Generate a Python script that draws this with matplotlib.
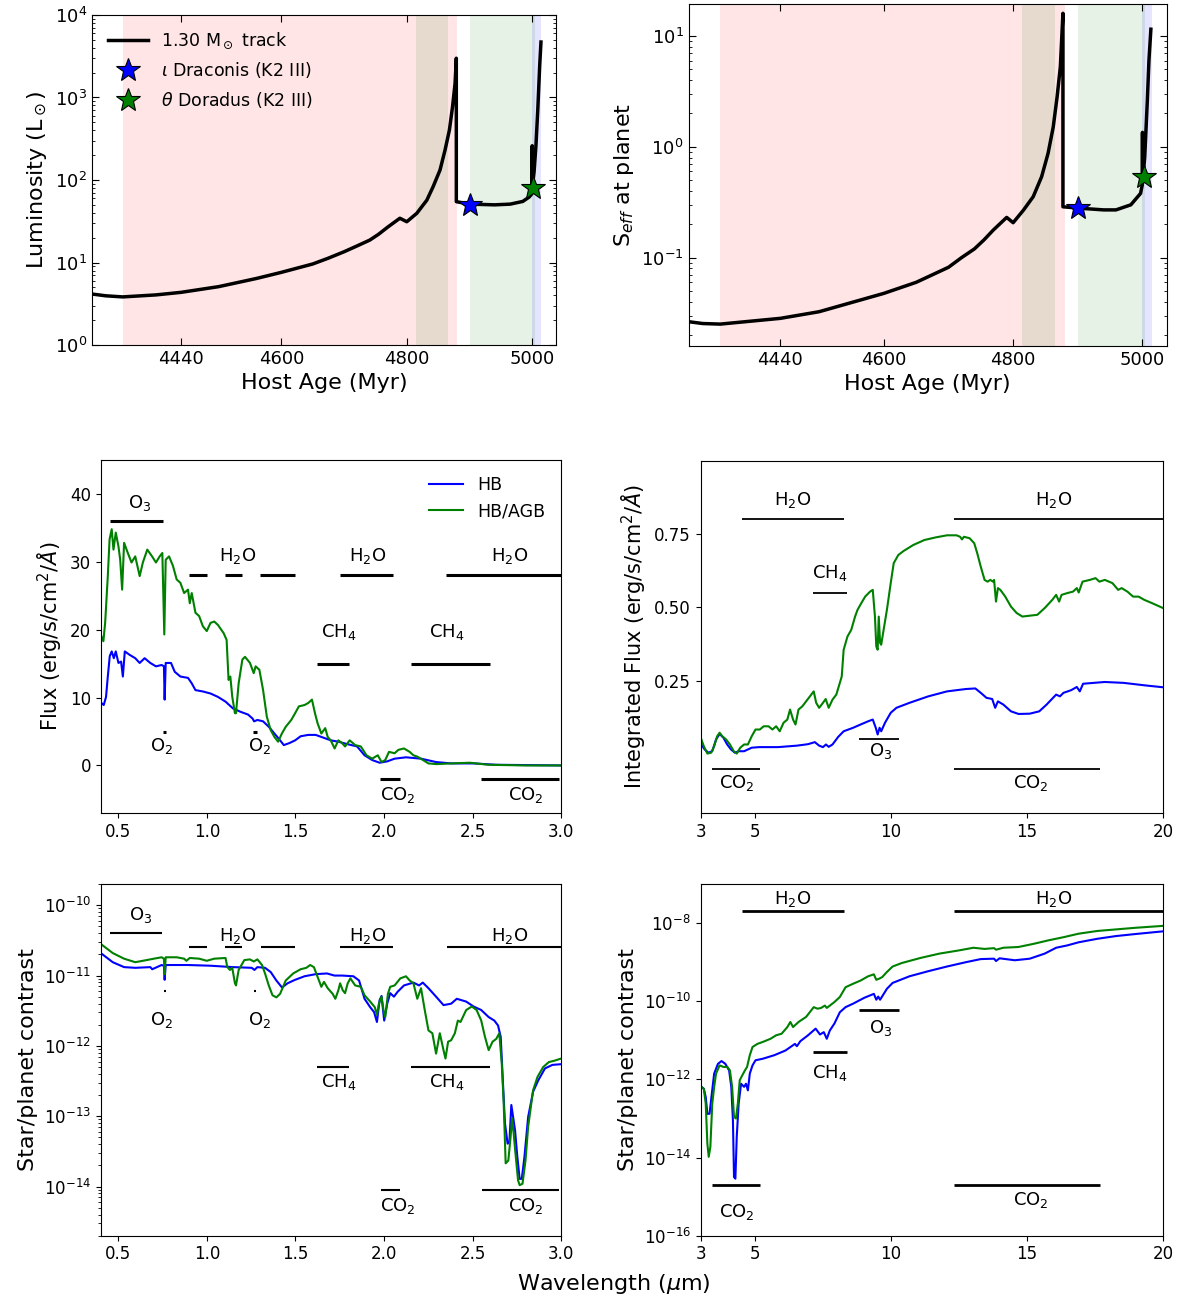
import numpy as np
import matplotlib.pyplot as plt

plt.rcParams['font.family'] = ['DejaVu Sans']
plt.rcParams['mathtext.fontset'] = 'dejavusans'

# ---- 1.30 Msun evolutionary track (host age in Myr) ----
age_L = [4298, 4320, 4347, 4400, 4440, 4500, 4560, 4600, 4650, 4675, 4700, 4720, 4741,
         4755, 4770, 4789, 4800, 4816, 4832, 4842, 4853, 4861, 4868, 4873, 4877, 4879,
         4879.01, 4901, 4940, 4965, 4985, 4995, 4999.5, 5000, 5000.4, 5003, 5006, 5009,
         5012, 5014]
lum = [4.15, 3.95, 3.83, 4.05, 4.35, 5.1, 6.4, 7.6, 9.6, 11.3, 13.5, 15.8, 18.7,
       22, 27, 34.4, 31.2, 39.5, 57, 83, 132, 230, 404, 775, 1480, 2990,
       54.6, 51, 50, 51, 55, 62, 68, 260, 85, 125, 262, 730,
       2450, 4700]

age_S = [4298, 4320, 4347, 4440, 4500, 4600, 4650, 4700, 4720, 4740, 4755, 4769, 4790,
         4800, 4816, 4831, 4844, 4854, 4862, 4868, 4873, 4875, 4877, 4877.01, 4901, 4940,
         4959, 4982, 4997, 4999.6, 5000, 5000.4, 5003.5, 5007.5, 5010, 5013]
seff = [0.0265, 0.0255, 0.0252, 0.0284, 0.0326, 0.0477, 0.060, 0.082, 0.10, 0.12, 0.145, 0.177, 0.231,
        0.207, 0.269, 0.355, 0.537, 0.873, 1.51, 2.83, 5.28, 9.2, 16.0, 0.288, 0.28, 0.27,
        0.27, 0.3, 0.38, 0.45, 1.35, 0.5, 0.81, 2.6, 6.0, 11.5]

star_names = [r'$\iota$ Draconis (K2 III)', r'$\theta$ Doradus (K2 III)']
star_colors = ['blue', 'green']
star_age = [4901, 5002]
star_lum = [50, 79]
star_seff = [0.28, 0.54]

# evolutionary phases: (start, end, colour)
phases = [(4347, 4880, 'red'), (4814, 4865, 'green'),
          (4901, 5004, 'green'), (5000, 5014, 'blue')]

# ---- reflected/emitted spectra, 0.4 - 3 micron ----
wl_vis_hb = [0.404, 0.417, 0.43, 0.44, 0.451, 0.462, 0.474, 0.485, 0.5, 0.515, 0.525,
             0.536, 0.563, 0.595, 0.62, 0.648, 0.68, 0.712, 0.744, 0.757, 0.761, 0.767,
             0.797, 0.818, 0.85, 0.893, 0.914, 0.935, 0.977, 1.02, 1.062, 1.105, 1.147,
             1.19, 1.232, 1.258, 1.266, 1.285, 1.317, 1.349, 1.381, 1.413, 1.434, 1.466,
             1.498, 1.529, 1.572, 1.614, 1.657, 1.699, 1.742, 1.784, 1.848, 1.89, 1.933,
             1.975, 2.018, 2.06, 2.124, 2.209, 2.294, 2.379, 2.506, 2.633, 3.0]
flux_vis_hb = [9.2, 8.9, 10.1, 13.1, 16.1, 16.8, 15.8, 16.8, 15.1, 15.3, 13.1,
               16.8, 16.3, 15.8, 15.1, 15.8, 15.1, 14.6, 14.8, 14.6, 9.7, 15.1,
               15.1, 13.8, 13.1, 12.9, 12.1, 11.1, 10.9, 10.6, 10.1, 9.4, 8.4,
               7.9, 7.5, 6.9, 6.5, 6.7, 6.5, 5.7, 4.7, 3.7, 3.0, 3.3,
               3.7, 4.3, 4.5, 4.5, 4.1, 3.7, 3.5, 3.2, 2.8, 1.5, 0.8,
               0.4, 0.6, 1.0, 1.2, 1.0, 0.5, 0.3, 0.3, 0.1, 0.0]

wl_vis_agb = [0.404, 0.415, 0.425, 0.44, 0.45, 0.462, 0.472, 0.485, 0.5, 0.51, 0.521,
              0.532, 0.553, 0.574, 0.595, 0.62, 0.638, 0.663, 0.69, 0.712, 0.733, 0.748,
              0.759, 0.767, 0.786, 0.808, 0.829, 0.85, 0.871, 0.893, 0.903, 0.914, 0.935,
              0.956, 0.977, 0.999, 1.02, 1.041, 1.062, 1.094, 1.111, 1.122, 1.132, 1.143,
              1.158, 1.164, 1.179, 1.2, 1.215, 1.243, 1.264, 1.275, 1.296, 1.317, 1.338,
              1.36, 1.381, 1.402, 1.423, 1.445, 1.476, 1.498, 1.519, 1.551, 1.572, 1.593,
              1.61, 1.625, 1.646, 1.668, 1.682, 1.699, 1.721, 1.742, 1.763, 1.78, 1.806,
              1.837, 1.869, 1.901, 1.933, 1.965, 1.986, 2.007, 2.028, 2.06, 2.081, 2.113,
              2.145, 2.166, 2.188, 2.22, 2.251, 2.294, 2.379, 2.485, 2.59, 2.8, 3.0]
flux_vis_agb = [19.0, 18.3, 21.0, 27.9, 33.3, 34.8, 31.8, 34.3, 32.3, 30.3, 25.9,
                32.8, 31.3, 29.9, 30.8, 27.9, 29.9, 31.8, 30.8, 29.9, 30.8, 31.3,
                19.3, 30.3, 30.8, 29.4, 27.4, 26.9, 25.4, 25.9, 23.9, 25.4, 22.5,
                22.0, 20.5, 19.8, 21.0, 21.2, 20.7, 19.5, 18.5, 12.6, 13.1, 10.1,
                7.7, 7.7, 12.1, 15.6, 16.0, 15.1, 13.6, 14.6, 14.1, 11.1, 7.2,
                5.2, 4.2, 3.5, 4.7, 5.7, 6.7, 7.7, 8.7, 8.9, 9.2, 9.7,
                7.7, 6.2, 4.7, 5.5, 4.2, 3.7, 2.5, 3.7, 3.3, 2.8, 3.7,
                3.0, 2.8, 1.5, 1.0, 1.5, 0.5, 0.8, 2.0, 1.8, 2.3, 2.5,
                2.0, 1.5, 1.3, 0.8, 0.3, 0.2, 0.3, 0.4, 0.1, 0.0, 0.0]

# ---- integrated flux, 3 - 20 micron ----
wl_ir_hb = [3.03, 3.15, 3.29, 3.43, 3.57, 3.70, 3.84, 3.98, 4.12, 4.26, 4.40, 4.60,
            4.74, 4.88, 5.15, 5.85, 6.54, 6.95, 7.20, 7.36, 7.50, 7.61, 7.71, 7.85,
            8.06, 8.26, 8.61, 8.88, 9.16, 9.33, 9.44, 9.51, 9.58, 9.64, 9.78, 9.99,
            10.20, 10.68, 11.37, 12.06, 12.75, 13.10, 13.30, 13.51, 13.72, 13.83, 13.93,
            14.13, 14.41, 14.69, 15.10, 15.45, 15.72, 16.07, 16.21, 16.34, 16.62, 16.83,
            16.94, 17.06, 17.45, 17.86, 18.55, 19.38, 20.0]
flux_ir_hb = [0.033, 0.016, 0.005, 0.010, 0.050, 0.069, 0.056, 0.033, 0.016, 0.005, 0.010, 0.010,
              0.016, 0.022, 0.024, 0.024, 0.029, 0.034, 0.041, 0.029, 0.024, 0.033, 0.025, 0.033,
              0.059, 0.078, 0.090, 0.101, 0.112, 0.118, 0.090, 0.067, 0.090, 0.078, 0.107, 0.141,
              0.158, 0.175, 0.197, 0.214, 0.222, 0.224, 0.209, 0.192, 0.188, 0.158, 0.180,
              0.169, 0.146, 0.137, 0.138, 0.146, 0.169, 0.203, 0.197, 0.209, 0.218, 0.229,
              0.214, 0.240, 0.243, 0.246, 0.243, 0.234, 0.228]

wl_ir_agb = [3.03, 3.12, 3.25, 3.39, 3.50, 3.61, 3.70, 3.80, 3.94, 4.08, 4.22, 4.33,
             4.46, 4.60, 4.74, 4.88, 5.02, 5.18, 5.32, 5.50, 5.64, 5.78, 5.91, 6.05,
             6.19, 6.29, 6.40, 6.49, 6.60, 6.74, 6.88, 7.02, 7.16, 7.25, 7.36, 7.50,
             7.60, 7.71, 7.85, 7.99, 8.12, 8.19, 8.26, 8.40, 8.54, 8.68, 8.77, 8.91,
             9.05, 9.23, 9.33, 9.41, 9.46, 9.51, 9.55, 9.60, 9.64, 9.74, 9.85, 9.99,
             10.10, 10.27, 10.47, 10.82, 11.23, 11.65, 12.06, 12.41, 12.54, 12.61, 12.68,
             12.89, 13.06, 13.17, 13.30, 13.44, 13.55, 13.65, 13.75, 13.79, 13.86, 13.93,
             14.02, 14.20, 14.41, 14.62, 14.83, 15.10, 15.38, 15.65, 15.93, 16.07, 16.18,
             16.27, 16.48, 16.69, 16.83, 16.90, 17.04, 17.31, 17.52, 17.66, 17.86, 18.14,
             18.35, 18.48, 18.69, 18.90, 19.10, 19.31, 19.59, 20.0]
flux_ir_agb = [0.050, 0.027, 0.002, 0.005, 0.027, 0.061, 0.073, 0.061, 0.050, 0.033, 0.010, 0.002,
               0.022, 0.033, 0.033, 0.061, 0.084, 0.084, 0.095, 0.095, 0.084, 0.095, 0.078, 0.107,
               0.118, 0.152, 0.118, 0.101, 0.152, 0.163, 0.180, 0.197, 0.214, 0.175, 0.158, 0.175,
               0.188, 0.158, 0.186, 0.203, 0.243, 0.265, 0.356, 0.401, 0.424, 0.469, 0.492, 0.515,
               0.537, 0.554, 0.560, 0.469, 0.367, 0.356, 0.469, 0.379, 0.373, 0.430, 0.492, 0.583,
               0.651, 0.679, 0.693, 0.713, 0.730, 0.739, 0.746, 0.746, 0.741, 0.732, 0.741,
               0.736, 0.719, 0.685, 0.639, 0.594, 0.588, 0.594, 0.588, 0.594, 0.520, 0.566,
               0.560, 0.537, 0.503, 0.481, 0.469, 0.472, 0.475, 0.498, 0.526, 0.543, 0.520,
               0.543, 0.549, 0.554, 0.566, 0.551, 0.588, 0.594, 0.600, 0.588, 0.594, 0.583,
               0.560, 0.566, 0.554, 0.537, 0.537, 0.526, 0.515, 0.498]

# ---- star/planet contrast (log10), 0.4 - 3 micron ----
wl_cvis_hb = [0.40, 0.468, 0.532, 0.595, 0.68, 0.691, 0.744, 0.757, 0.761, 0.767, 0.893,
              1.02, 1.147, 1.253, 1.268, 1.285, 1.328, 1.36, 1.392, 1.424, 1.455, 1.498,
              1.551, 1.614, 1.678, 1.72, 1.763, 1.827, 1.859, 1.89, 1.922, 1.944, 1.96,
              1.975, 1.986, 2.001, 2.018, 2.035, 2.056, 2.077, 2.113, 2.166, 2.198, 2.219,
              2.251, 2.294, 2.336, 2.379, 2.411, 2.464, 2.506, 2.549, 2.591, 2.623, 2.644,
              2.659, 2.672, 2.683, 2.698, 2.708, 2.719, 2.729, 2.74, 2.753, 2.766, 2.778,
              2.793, 2.814, 2.842, 2.871, 2.909, 2.951, 3.0]
lcon_vis_hb = [-10.68, -10.81, -10.88, -10.89, -10.88, -10.91, -10.85, -10.86, -11.06, -10.85, -10.85,
               -10.86, -10.88, -10.89, -10.92, -10.88, -10.89, -10.95, -11.07, -11.17, -11.11, -11.06,
               -11.01, -10.98, -10.97, -11.00, -11.00, -11.01, -11.07, -11.33, -11.45, -11.52, -11.66,
               -11.35, -11.29, -11.64, -11.40, -11.25, -11.30, -11.23, -11.14, -11.10, -11.14, -11.10,
               -11.18, -11.30, -11.42, -11.40, -11.33, -11.37, -11.44, -11.49, -11.59, -11.64, -11.71,
               -11.87, -12.54, -13.10, -13.39, -13.37, -12.84, -13.01, -13.20, -13.58, -13.89, -13.89,
               -13.58, -13.01, -12.65, -12.49, -12.32, -12.27, -12.26]

wl_cvis_agb = [0.40, 0.468, 0.532, 0.595, 0.659, 0.70, 0.744, 0.757, 0.761, 0.767, 0.829,
               0.871, 0.884, 0.903, 0.956, 0.999, 1.041, 1.105, 1.115, 1.13, 1.143, 1.158,
               1.164, 1.179, 1.211, 1.243, 1.264, 1.285, 1.311, 1.328, 1.349, 1.37, 1.392,
               1.413, 1.445, 1.487, 1.529, 1.561, 1.583, 1.604, 1.625, 1.646, 1.661, 1.682,
               1.71, 1.725, 1.742, 1.752, 1.767, 1.78, 1.795, 1.81, 1.837, 1.869, 1.89,
               1.922, 1.948, 1.96, 1.971, 1.986, 1.997, 2.007, 2.022, 2.035, 2.06, 2.092,
               2.124, 2.145, 2.166, 2.188, 2.209, 2.23, 2.251, 2.273, 2.294, 2.315, 2.336,
               2.347, 2.362, 2.379, 2.40, 2.417, 2.432, 2.464, 2.496, 2.523, 2.549, 2.57,
               2.591, 2.613, 2.634, 2.651, 2.665, 2.676, 2.687, 2.702, 2.715, 2.723, 2.732,
               2.744, 2.757, 2.766, 2.782, 2.799, 2.814, 2.842, 2.867, 2.899, 2.931, 2.963, 3.0]
lcon_vis_agb = [-10.55, -10.68, -10.76, -10.81, -10.78, -10.76, -10.74, -10.76, -10.98, -10.74, -10.74,
                -10.76, -10.79, -10.75, -10.76, -10.79, -10.76, -10.75, -10.88, -10.92, -10.89, -11.11,
                -11.14, -10.92, -10.78, -10.77, -10.80, -10.77, -10.85, -10.97, -11.14, -11.28, -11.31,
                -11.26, -11.07, -10.97, -10.91, -10.89, -10.85, -10.88, -11.02, -11.16, -11.09, -11.18,
                -11.26, -11.33, -11.21, -11.11, -11.21, -11.25, -11.11, -11.04, -11.14, -11.16, -11.28,
                -11.37, -11.45, -11.56, -11.40, -11.30, -11.49, -11.59, -11.26, -11.16, -11.14, -11.04,
                -11.01, -11.07, -11.11, -11.33, -11.18, -11.49, -11.78, -11.82, -12.11, -11.82, -12.06,
                -12.18, -11.94, -11.92, -11.82, -11.64, -11.66, -11.49, -11.44, -11.49, -11.64, -11.87,
                -12.06, -11.94, -11.90, -11.82, -12.25, -12.82, -13.67, -13.63, -13.29, -13.03, -13.24,
                -13.57, -13.91, -13.98, -13.96, -13.63, -13.15, -12.63, -12.44, -12.30, -12.23, -12.21, -12.18]

# ---- star/planet contrast (log10), 3 - 20 micron ----
wl_cir_hb = [3.03, 3.12, 3.19, 3.25, 3.33, 3.40, 3.50, 3.64, 3.77, 3.91, 4.05, 4.13,
             4.19, 4.23, 4.28, 4.33, 4.40, 4.49, 4.60, 4.67, 4.74, 4.81, 4.91, 5.02,
             5.29, 5.71, 6.12, 6.47, 6.54, 6.67, 6.95, 7.23, 7.39, 7.53, 7.64, 7.75,
             7.92, 8.12, 8.33, 8.61, 9.02, 9.37, 9.46, 9.53, 9.60, 9.85, 10.06, 10.68,
             11.37, 12.06, 12.75, 13.30, 13.79, 13.86, 13.99, 14.55, 15.10, 15.65, 16.07,
             16.48, 16.90, 17.59, 18.28, 18.97, 20.0]
lcon_ir_hb = [-12.19, -12.24, -12.45, -12.88, -12.88, -12.45, -11.85, -11.60, -11.53, -11.60, -11.77, -12.19,
              -13.05, -14.50, -14.54, -13.47, -12.62, -12.11, -12.19, -12.11, -12.28, -11.85, -11.64, -11.51,
              -11.47, -11.38, -11.26, -11.09, -11.15, -11.02, -10.87, -10.70, -10.85, -10.79, -10.96, -10.75,
              -10.57, -10.28, -10.15, -10.06, -9.91, -9.81, -9.96, -9.88, -9.96, -9.68, -9.53, -9.36,
              -9.23, -9.11, -9.00, -8.92, -8.91, -8.97, -8.90, -8.95, -8.91, -8.78, -8.63,
              -8.57, -8.49, -8.40, -8.33, -8.28, -8.21]

wl_cir_agb = [3.03, 3.12, 3.19, 3.25, 3.30, 3.36, 3.43, 3.50, 3.57, 3.70, 3.84, 3.98,
              4.08, 4.16, 4.23, 4.30, 4.37, 4.44, 4.53, 4.63, 4.71, 4.81, 4.91, 5.09,
              5.29, 5.57, 5.78, 5.98, 6.19, 6.30, 6.40, 6.60, 6.88, 7.16, 7.30, 7.43,
              7.57, 7.64, 7.92, 8.12, 8.33, 8.61, 8.88, 9.16, 9.37, 9.46, 9.57, 9.68,
              9.85, 10.06, 10.40, 11.09, 11.78, 12.48, 13.03, 13.44, 13.79, 13.86, 14.13,
              14.69, 15.24, 15.79, 16.34, 16.90, 17.59, 18.28, 18.97, 20.0]
lcon_ir_agb = [-12.19, -12.24, -12.62, -13.64, -13.98, -13.73, -12.62, -12.19, -11.85, -11.64, -11.68, -11.68,
               -11.77, -12.19, -12.96, -13.00, -12.62, -12.02, -11.90, -11.77, -11.68, -11.38, -11.17, -11.09,
               -11.04, -10.96, -10.87, -10.83, -10.66, -10.53, -10.66, -10.53, -10.40, -10.15, -10.19, -10.17,
               -10.11, -10.17, -10.02, -9.89, -9.64, -9.55, -9.47, -9.36, -9.31, -9.45, -9.42, -9.38,
               -9.25, -9.11, -9.02, -8.89, -8.78, -8.70, -8.63, -8.66, -8.64, -8.68, -8.63,
               -8.61, -8.53, -8.44, -8.36, -8.27, -8.20, -8.16, -8.12, -8.07]

# ---- molecular band markers: (x0, x1, y) and (label, x, y) ----
bands_flux_vis = [(0.45, 0.75, 36), (0.90, 1.00, 28), (1.10, 1.20, 28), (1.30, 1.50, 28),
                  (1.75, 2.05, 28), (2.35, 3.0, 28), (1.62, 1.80, 15), (2.15, 2.60, 15),
                  (0.75, 0.77, 5), (1.26, 1.28, 5), (1.98, 2.09, -2), (2.55, 2.99, -2)]
names_flux_vis = [('O$_3$', 0.62, 38.7), ('H$_2$O', 1.175, 30.9), ('H$_2$O', 1.905, 30.9),
                  ('H$_2$O', 2.71, 30.9), ('CH$_4$', 1.746, 19.7), ('CH$_4$', 2.357, 19.7),
                  ('O$_2$', 0.745, 2.8), ('O$_2$', 1.296, 2.8), ('CO$_2$', 2.08, -4.4),
                  ('CO$_2$', 2.80, -4.4)]

bands_flux_ir = [(4.52, 8.29, 0.80), (12.31, 20.0, 0.80), (7.13, 8.39, 0.551),
                 (8.83, 10.29, 0.052), (3.41, 5.20, -0.049), (12.31, 17.68, -0.049)]
names_flux_ir = [('H$_2$O', 6.38, 0.868), ('H$_2$O', 15.97, 0.868), ('CH$_4$', 7.75, 0.617),
                 ('O$_3$', 9.62, 0.010), ('CO$_2$', 4.35, -0.098), ('CO$_2$', 15.15, -0.098)]

bands_con_vis = [(0.453, 0.746, -10.393), (0.901, 0.999, -10.597), (1.10, 1.20, -10.597),
                 (1.305, 1.50, -10.597), (1.754, 2.05, -10.597), (2.353, 3.0, -10.597),
                 (1.62, 1.80, -12.30), (2.152, 2.60, -12.30), (0.755, 0.766, -11.22),
                 (1.265, 1.276, -11.22), (1.982, 2.088, -14.05), (2.553, 2.99, -14.05)]
names_con_vis = [('O$_3$', 0.623, -10.14), ('H$_2$O', 1.175, -10.436), ('H$_2$O', 1.905, -10.436),
                 ('H$_2$O', 2.708, -10.436), ('CH$_4$', 1.746, -12.52), ('CH$_4$', 2.357, -12.52),
                 ('O$_2$', 0.744, -11.635), ('O$_2$', 1.296, -11.635), ('CO$_2$', 2.08, -14.28),
                 ('CO$_2$', 2.80, -14.28)]

bands_con_ir = [(4.52, 8.29, -7.70), (12.31, 20.0, -7.70), (8.83, 10.29, -10.225),
                (7.13, 8.39, -11.30), (3.41, 5.20, -14.69), (12.31, 17.68, -14.69)]
names_con_ir = [('H$_2$O', 6.38, -7.38), ('H$_2$O', 15.97, -7.38), ('O$_3$', 9.62, -10.69),
                ('CH$_4$', 7.75, -11.84), ('CO$_2$', 4.35, -15.39), ('CO$_2$', 15.15, -15.09)]


def draw_bands(ax, bands, names, lw, log=False):
    for x0, x1, y in bands:
        yy = 10.0 ** y if log else y
        ax.plot([x0, x1], [yy, yy], color='black', lw=lw, solid_capstyle='butt')
    for txt, x, y in names:
        yy = 10.0 ** y if log else y
        ax.text(x, yy, txt, ha='center', va='center', fontsize=13)


def track_panel(ax, ages, vals, star_vals, ylabel):
    for a0, a1, c in phases:
        ax.axvspan(a0, a1, color=c, alpha=0.1, lw=0, zorder=0)
    ax.plot(ages, vals, color='black', lw=2.5, label=r'1.30 M$_\odot$ track', zorder=2)
    for a, v, c, n in zip(star_age, star_vals, star_colors, star_names):
        ax.plot(a, v, marker='*', ms=18, color=c, mec='black', mew=0.8,
                ls='none', label=n, zorder=3)
    ax.set_yscale('log')
    ax.set_xlim(4298, 5038)
    ax.set_xticks([4440, 4600, 4800, 5000])
    ax.set_xlabel('Host Age (Myr)', fontsize=16)
    ax.set_ylabel(ylabel, fontsize=16)
    ax.tick_params(which='both', direction='in', top=True, right=True, labelsize=13)
    ax.tick_params(which='major', length=5)
    ax.tick_params(which='minor', length=2.5)


fig = plt.figure(figsize=(11.78, 13.02), dpi=100)

# luminosity along the track
ax1 = fig.add_axes([0.0781, 0.735, 0.3939, 0.2535])
track_panel(ax1, age_L, lum, star_lum, r'Luminosity (L$_\odot$)')
ax1.set_ylim(1, 1e4)
ax1.legend(loc='upper left', frameon=False, fontsize=12.5, numpoints=1,
           handlelength=2.3, labelspacing=0.55)

# effective stellar flux at the planet
ax2 = fig.add_axes([0.5845, 0.7345, 0.4062, 0.2624])
track_panel(ax2, age_S, seff, star_seff, r'S$_{eff}$ at planet')
ax2.set_ylim(0.0161, 19.4)

# planet flux, visible/near-IR
ax3 = fig.add_axes([0.0855, 0.3756, 0.3908, 0.2711])
ax3.plot(wl_vis_hb, flux_vis_hb, color='blue', lw=1.5, label='HB')
ax3.plot(wl_vis_agb, flux_vis_agb, color='green', lw=1.5, label='HB/AGB')
draw_bands(ax3, bands_flux_vis, names_flux_vis, lw=2.2)
ax3.set_xlim(0.4, 3.0)
ax3.set_ylim(-7, 45)
ax3.set_yticks([0, 10, 20, 30, 40])
ax3.set_ylabel(r'Flux (erg/s/cm$^2$/$\AA$)', fontsize=15)
ax3.legend(loc='upper right', frameon=False, fontsize=12.5)

# planet flux, mid-IR
ax4 = fig.add_axes([0.5947, 0.3757, 0.3926, 0.2704])
ax4.plot(wl_ir_hb, flux_ir_hb, color='blue', lw=1.5)
ax4.plot(wl_ir_agb, flux_ir_agb, color='green', lw=1.5)
draw_bands(ax4, bands_flux_ir, names_flux_ir, lw=1.3)
ax4.set_xlim(3, 20)
ax4.set_ylim(-0.2, 1.0)
ax4.set_xticks([3, 5, 10, 15, 20])
ax4.set_yticks([0.25, 0.5, 0.75])
ax4.set_ylabel(r'Integrated Flux (erg/s/cm$^2$/$\AA$)', fontsize=15)

# contrast, visible/near-IR
ax5 = fig.add_axes([0.0855, 0.0509, 0.3908, 0.2701])
ax5.plot(wl_cvis_hb, 10.0 ** np.array(lcon_vis_hb), color='blue', lw=1.5)
ax5.plot(wl_cvis_agb, 10.0 ** np.array(lcon_vis_agb), color='green', lw=1.5)
ax5.set_yscale('log')
draw_bands(ax5, bands_con_vis, names_con_vis, lw=1.5, log=True)
ax5.set_xlim(0.4, 3.0)
ax5.set_ylim(2e-15, 2e-10)
ax5.set_ylabel('Star/planet contrast', fontsize=16)

# contrast, mid-IR
ax6 = fig.add_axes([0.5947, 0.0509, 0.3926, 0.2701])
ax6.plot(wl_cir_hb, 10.0 ** np.array(lcon_ir_hb), color='blue', lw=1.5)
ax6.plot(wl_cir_agb, 10.0 ** np.array(lcon_ir_agb), color='green', lw=1.5)
ax6.set_yscale('log')
draw_bands(ax6, bands_con_ir, names_con_ir, lw=2.0, log=True)
ax6.set_xlim(3, 20)
ax6.set_ylim(1e-16, 1e-7)
ax6.set_xticks([3, 5, 10, 15, 20])
ax6.set_yticks([1e-16, 1e-14, 1e-12, 1e-10, 1e-8])
ax6.yaxis.set_minor_locator(plt.NullLocator())
ax6.set_ylabel('Star/planet contrast', fontsize=16)

for ax in (ax3, ax4, ax5, ax6):
    ax.tick_params(labelsize=12)
ax3.set_xticks([0.5, 1.0, 1.5, 2.0, 2.5, 3.0])
ax5.set_xticks([0.5, 1.0, 1.5, 2.0, 2.5, 3.0])

fig.text(0.521, 0.0135, r'Wavelength ($\mu$m)', ha='center', va='center', fontsize=16)

fig.savefig('out.png', dpi=100)
